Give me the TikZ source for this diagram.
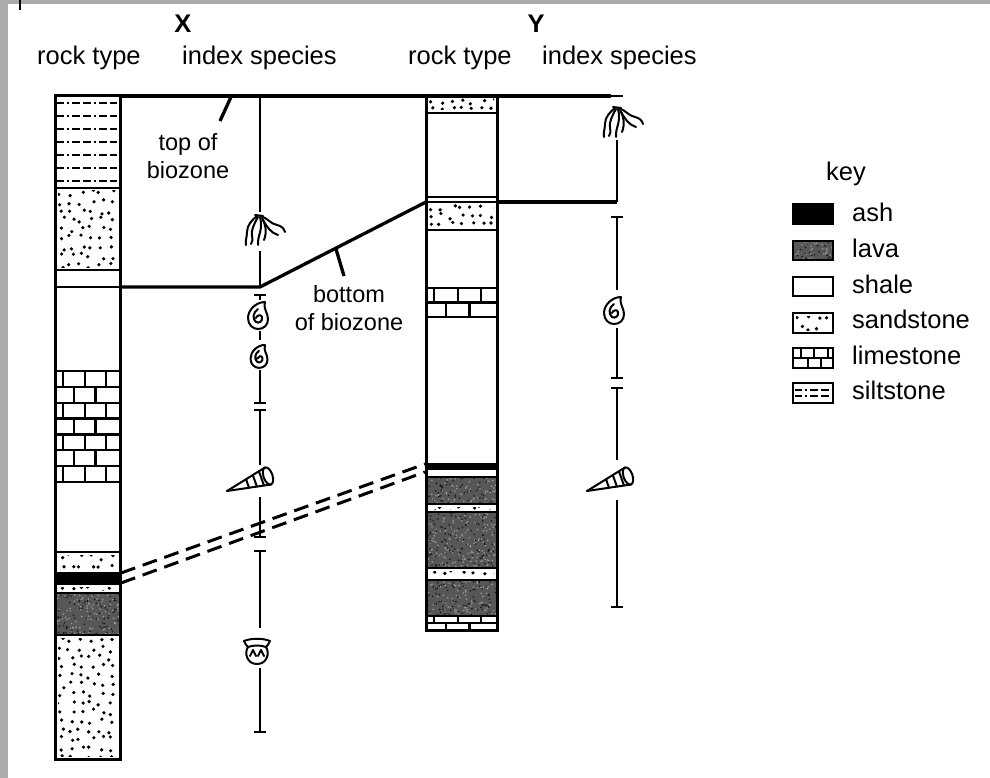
\documentclass[tikz,border=0pt]{standalone}
\usepackage{fontspec}
\setmainfont{Liberation Sans}
\newcommand{\sandlayer}[4]{%
  \pgfmathtruncatemacro{\snx}{((#3)-(#1)-6)/10}%
  \pgfmathtruncatemacro{\sny}{((#4)-(#2)-4)/9}%
  \begin{scope}
    \clip (#1+3,#2+3) rectangle (#3-3,#4-3);
    \foreach \i in {0,...,\snx}{\foreach \j in {0,...,\sny}{%
      \pgfmathsetmacro{\px}{#1+6+\i*10+3.5*rand}%
      \pgfmathsetmacro{\py}{#2+5+\j*9+3*rand}%
      \fill (\px,\py) circle (1.8pt);
    }}
  \end{scope}}
\newcommand{\lavalayer}[4]{%
  \fill[black!66] (#1,#2) rectangle (#3,#4);
  \pgfmathtruncatemacro{\lvn}{((#3)-(#1))*((#4)-(#2))/14}%
  \begin{scope}
    \clip (#1,#2) rectangle (#3,#4);
    \foreach \k in {1,...,\lvn}{%
      \pgfmathsetmacro{\px}{#1+rnd*((#3)-(#1))}%
      \pgfmathsetmacro{\py}{#2+rnd*((#4)-(#2))}%
      \pgfmathtruncatemacro{\pc}{rnd>0.5 ? 90 : 40}%
      \fill[black!\pc] (\px,\py) circle (0.9pt);
    }
  \end{scope}}
\newcommand{\limelayer}[5]{%
  \pgfmathsetmacro{\lrh}{((#4)-(#2))/#5}%
  \pgfmathsetmacro{\lbw}{((#3)-(#1))/3}%
  \foreach \r in {1,...,#5}{%
    \pgfmathsetmacro{\ya}{#2+(\r-1)*\lrh}%
    \pgfmathsetmacro{\yb}{#2+\r*\lrh}%
    \ifnum\r<#5 \draw[bnd] (#1,\yb) -- (#3,\yb);\fi
    \pgfmathtruncatemacro{\lodd}{mod(\r,2)}%
    \ifnum\lodd=1
      \foreach \k in {0,1,2}{\draw[bnd] ({#1+8+\k*\lbw},\ya) -- ({#1+8+\k*\lbw},\yb);}
    \else
      \foreach \k in {0,1}{\draw[bnd] ({#1+8+0.5*\lbw+\k*\lbw},\ya) -- ({#1+8+0.5*\lbw+\k*\lbw},\yb);}
    \fi
  }}
\newcommand{\siltlayer}[5]{%
  \foreach \r in {1,...,#5}{%
    \pgfmathsetmacro{\yy}{#2+7+(\r-1)*((#4)-(#2)-14)/((#5)-1)}%
    \draw[line width=2pt, dash pattern=on 7pt off 3pt on 2pt off 3pt on 8pt off 3pt on 8pt off 3pt on 2pt off 3pt on 8pt off 3pt] (#1+2,\yy) -- (#3-2,\yy);
  }}
\begin{document}
\begin{tikzpicture}[x=1pt,y=-1pt,
  hdr/.style={font=\fontsize{25.5}{30}\selectfont, inner sep=0pt},
  hdrb/.style={font=\fontsize{25.5}{30}\selectfont\bfseries, inner sep=0pt},
  lbl/.style={font=\fontsize{23.5}{28.5}\selectfont, inner sep=0pt, align=center},
  keytxt/.style={font=\fontsize{25.5}{30}\selectfont, inner sep=0pt, anchor=base west},
  colline/.style={line width=3pt},
  bnd/.style={line width=2.3pt},
  rangeline/.style={line width=2.1pt},
  bzline/.style={line width=3.3pt},
  corr/.style={line width=3pt, dash pattern=on 15pt off 8pt},
  icon/.style={line width=2pt, line cap=round, line join=round},
  roots/.pic={
    \draw[icon] (-4,0) -- (4,1);
    \draw[icon] (-2,1) .. controls (-7,5) and (-12,10) .. (-12,17) .. controls (-12,22) and (-14,26) .. (-13,30);
    \draw[icon] (-1,2) .. controls (-5,9) and (-8,15) .. (-7,21) .. controls (-6,25) and (-7,27) .. (-8,29);
    \draw[icon] (1,2) .. controls (3,9) and (2,15) .. (0,21) .. controls (-1,25) and (-1,27) .. (-1,30);
    \draw[icon] (3,3) .. controls (7,10) and (8,17) .. (5,25);
    \draw[icon] (2,1) .. controls (8,3) and (12,9) .. (18,10) .. controls (22,11) and (25,13) .. (26,17);
    \draw[icon] (4,5) .. controls (8,12) and (12,18) .. (19,20);
  },
  ammon/.pic={
    \draw[icon] (7,-13) .. controls (-2,-13) and (-10,-5) .. (-10,3) .. controls (-10,10) and (-5,14) .. (0,14) .. controls (6,14) and (10,10) .. (10,4) .. controls (10,-2) and (5,-6) .. (7,-13);
    \draw[icon] (0,-6) .. controls (-5,-3) and (-6,4) .. (-2,7) .. controls (1,9) and (5,6) .. (4,2) .. controls (3,-1) and (-1,0) .. (-2,3);
  },
  gastro/.pic={
    \draw[icon] (-41,15) -- (-3,-8.5);
    \draw[icon] (-41,15) -- (3,8.5);
    \draw[icon, rotate=19] (0,0) ellipse (4.5pt and 9pt);
    \draw[icon] (-22,3.25) -- (-19,11.75);
    \draw[icon] (-15.2,-1) -- (-11.1,10.6);
    \draw[icon] (-9.1,-4.7) -- (-4,9.5);
  },
  brach/.pic={
    \draw[icon] (-13,-10) .. controls (-6,-13) and (6,-13) .. (13,-10) .. controls (12,-7) and (10,-5) .. (9,-4) .. controls (13,2) and (10,13) .. (0,13) .. controls (-10,13) and (-13,2) .. (-9,-4) .. controls (-10,-5) and (-12,-7) .. (-13,-10) -- cycle;
    \draw[icon] (-9,-4) .. controls (-4,-6) and (4,-6) .. (9,-4);
    \draw[icon] (-7,5) -- (-4,-1) -- (-1,5);
    \draw[icon] (1,5) -- (4,-1) -- (7,5);
  },
]
\useasboundingbox (0,0) rectangle (990,778);
\pgfmathsetseed{12}
% frame remnants
\fill[black!33] (0,0) rectangle (8,778);
\fill[black!33] (0,0) rectangle (990,4);
\draw[line width=1.5pt] (20,0) -- (20,10);

% headers
\node[hdrb, anchor=base] (xlab) at (183,33) {X};
\node[hdr, anchor=base west] (xrock) at (37,65) {rock type};
\node[hdr, anchor=base west] (xspec) at (182,65) {index species};
\node[hdrb, anchor=base] (ylab) at (536,33) {Y};
\node[hdr, anchor=base west] (yrock) at (408,65) {rock type};
\node[hdr, anchor=base west] (yspec) at (542,65) {index species};

% ---------- column X ----------
\siltlayer{55}{96}{120}{188}{7}
\sandlayer{55}{188}{120}{270}
\limelayer{55}{371}{120}{482}{7}
\sandlayer{55}{552}{120}{573}
\fill (55,573) rectangle (120,584);
\sandlayer{55}{584}{120}{593}
\lavalayer{55}{593}{120}{635}
\sandlayer{55}{635}{120}{759}
\foreach \yy in {188,270,287,371,482,552,573,584,593,635}{\draw[bnd] (55,\yy) -- (120,\yy);}
\draw[colline] (55,96) rectangle (120,759);

% ---------- column Y ----------
\sandlayer{426}{96}{497}{113}
\sandlayer{426}{202}{497}{230}
\limelayer{426}{288}{497}{317}{2}
\fill (426,464) rectangle (497,469);
\lavalayer{426}{477}{497}{504}
\sandlayer{426}{504}{497}{512}
\lavalayer{426}{512}{497}{568}
\sandlayer{426}{568}{497}{580}
\lavalayer{426}{580}{497}{616}
\limelayer{426}{616}{497}{630}{2}
\foreach \yy in {113,197,202,230,288,317,464,469,477,504,512,568,580,616}{\draw[bnd] (426,\yy) -- (497,\yy);}
\draw[colline] (426,96) rectangle (497,630);

% ---------- biozone lines ----------
\coordinate (tzL) at (120,96);
\coordinate (tzR) at (611,96);
\coordinate (bzA) at (120,287);
\coordinate (bzB) at (260,287);
\coordinate (bzC) at (426,202);
\coordinate (bzD) at (497,202);
\coordinate (bzE) at (617,202);
\draw[bzline] (tzL) -- (tzR);
\draw[bzline, line join=round] (bzA) -- (bzB) -- (bzC);
\draw[bzline] (bzD) -- (bzE);
\coordinate (ldA1) at (231,97);
\coordinate (ldA2) at (220,121);
\coordinate (ldB1) at (336,249);
\coordinate (ldB2) at (344,276);
\draw[line width=3.3pt] (ldA1) -- (ldA2);
\draw[line width=3.3pt] (ldB1) -- (ldB2);
\node[lbl] (topbz) at (188,156) {top of\\biozone};
\node[lbl] (botbz) at (349,308) {bottom\\of biozone};

% ---------- correlation (ash) ----------
\coordinate (ashX1) at (121,573);
\coordinate (ashX2) at (121,583);
\coordinate (ashY1) at (425,464);
\coordinate (ashY2) at (425,472);
\draw[corr] (ashX1) -- (ashY1);
\draw[corr] (ashX2) -- (ashY2);

% ---------- index species X ----------
\draw[rangeline] (260,96) -- (260,212);
\pic at (259,215) {roots};
\draw[rangeline] (260,251) -- (260,287);
\draw[rangeline] (254,295) -- (266,295);
\draw[rangeline] (260,295) -- (260,300);
\pic at (258,315) {ammon};
\draw[rangeline] (260,331) -- (260,340);
\pic[scale=0.85] at (259,356) {ammon};
\draw[rangeline] (260,370) -- (260,403);
\draw[rangeline] (254,403) -- (266,403);
\draw[rangeline] (254,410) -- (266,410);
\draw[rangeline] (260,410) -- (260,465);
\pic at (268,476) {gastro};
\draw[rangeline] (260,497) -- (260,537);
\draw[rangeline] (254,537) -- (266,537);
\draw[rangeline] (254,551) -- (266,551);
\draw[rangeline] (260,551) -- (260,628);
\pic at (257,651) {brach};
\draw[rangeline] (260,668) -- (260,732);
\draw[rangeline] (254,732) -- (266,732);

% ---------- index species Y ----------
\draw[rangeline] (611,96) -- (623,96);
\pic at (617,107) {roots};
\draw[rangeline] (617,140) -- (617,202);
\draw[rangeline] (611,217) -- (623,217);
\draw[rangeline] (617,217) -- (617,290);
\pic at (614,310) {ammon};
\draw[rangeline] (617,328) -- (617,378);
\draw[rangeline] (611,378) -- (623,378);
\draw[rangeline] (611,388) -- (623,388);
\draw[rangeline] (617,388) -- (617,460);
\pic at (628,476) {gastro};
\draw[rangeline] (617,500) -- (617,607);
\draw[rangeline] (611,607) -- (623,607);

% ---------- key ----------
\node[hdr, anchor=base] (keyt) at (846,181) {key};
\fill (793,204) rectangle (833,224);
\draw[bnd] (793,204) rectangle (833,224);
\node[keytxt] (kash) at (852,222) {ash};
\lavalayer{793}{241}{833}{260}
\draw[bnd] (793,241) rectangle (833,260);
\node[keytxt] (klava) at (852,257.5) {lava};
\draw[bnd] (793,277) rectangle (833,296);
\node[keytxt] (kshale) at (852,293) {shale};
\sandlayer{793}{313}{833}{333}
\draw[bnd] (793,313) rectangle (833,333);
\node[keytxt] (ksand) at (852,328.5) {sandstone};
\limelayer{793}{348}{833}{368}{2}
\draw[bnd] (793,348) rectangle (833,368);
\node[keytxt] (klime) at (852,364) {limestone};
\siltlayer{793}{383}{833}{403}{2}
\draw[bnd] (793,383) rectangle (833,403);
\node[keytxt] (ksilt) at (852,399.5) {siltstone};
\end{tikzpicture}
\end{document}
